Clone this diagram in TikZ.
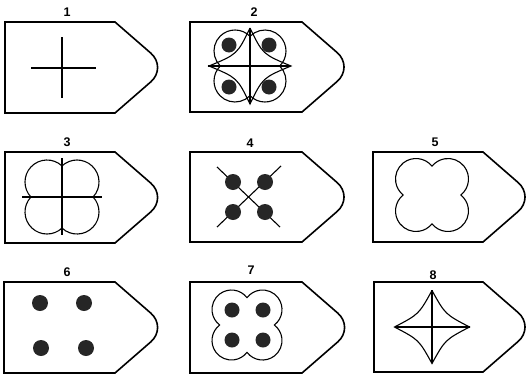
\documentclass[tikz,border=0pt]{standalone}
\usepackage{fontspec}
\setmainfont{Liberation Sans}
\tikzset{
  boxline/.style={line width=1.6pt, line cap=round, line join=miter},
  figline/.style={line width=1.1pt},
  dotfill/.style={fill=black!85},
  lab/.style={font=\fontsize{12.5}{14}\selectfont\bfseries, inner sep=0pt},
  pics/tag/.style 2 args={code={
    \draw[boxline] (#1,0) -- (0,0) -- (0,#2) -- (#1,#2);
    \draw[boxline, rounded corners=22pt] (#1,0) -- ({#1+0.575*#2},{#2/2}) -- (#1,#2);
  }},
  pics/clover/.style 2 args={code={
    \pgfmathsetmacro\cls{sqrt((#2)^2-(#1)^2)}
    \pgfmathsetmacro\cla{atan(\cls/(#1))}
    \draw[figline] (0,{#1+\cls})
      arc[start angle={180-\cla}, end angle={\cla-90}, radius=#2]
      arc[start angle={90-\cla}, end angle={\cla-180}, radius=#2]
      arc[start angle={-\cla}, end angle={\cla-270}, radius=#2]
      arc[start angle={-90-\cla}, end angle={\cla-360}, radius=#2] -- cycle;
  }},
  pics/astroid/.style n args={3}{code={
    \draw[figline, line join=miter] (0,{-#2})
      .. controls ({-#3*#1/2},{-#3*#2/2}) .. ({-#1},0)
      .. controls ({-#3*#1/2},{#3*#2/2}) .. (0,{#2})
      .. controls ({#3*#1/2},{#3*#2/2}) .. ({#1},0)
      .. controls ({#3*#1/2},{-#3*#2/2}) .. (0,{-#2});
  }}
}
\begin{document}
\begin{tikzpicture}[x=1pt, y=-1pt]
\useasboundingbox (0,0) rectangle (529,380);

% labels
\node[lab] (l1) at (67,12) {1};
\node[lab] (l2) at (254,12.5) {2};
\node[lab] (l3) at (67,142) {3};
\node[lab] (l4) at (250,143) {4};
\node[lab] (l5) at (435,142.5) {5};
\node[lab] (l6) at (67,272) {6};
\node[lab] (l7) at (251,270) {7};
\node[lab] (l8) at (433,275) {8};

% outlines
\pic at (5,22) {tag={110}{91}};
\pic at (190,22) {tag={112}{90}};
\pic at (5,152) {tag={110}{91}};
\pic at (190,152) {tag={112}{90}};
\pic at (373,152) {tag={110}{90}};
\pic at (4,282) {tag={111}{91}};
\pic at (190,282) {tag={112}{91}};
\pic at (374,282) {tag={109}{90}};

% panel 1
\draw[figline] (31,68) -- (96,68);
\draw[figline] (62,37) -- (62,98);

% panel 2
\pic at (250,66) {clover={15}{21}};
\pic at (250,66) {astroid={41}{38}{0.62}};
\draw[figline] (208,66) -- (290,66);
\draw[figline] (250,28) -- (250,104);
\foreach \p in {(229,45),(269,45),(229,87),(269,87)}
  \fill[dotfill] \p circle[radius=7.5];

% panel 3
\pic at (62,197) {clover={15}{22}};
\draw[figline] (22,197) -- (102,197);
\draw[figline] (62,158) -- (62,235);

% panel 4
\draw[figline] (217,167) -- (280,227);
\draw[figline] (281,166) -- (217,227);
\foreach \p in {(233,182),(265,182),(233,212),(265,212)}
  \fill[dotfill] \p circle[radius=8];

% panel 5
\pic at (432,195) {clover={16}{20.5}};

% panel 6
\foreach \p in {(40,303),(84,303),(41,348),(86,348)}
  \fill[dotfill] \p circle[radius=8];

% panel 7
\pic at (247,325) {clover={15.5}{19.5}};
\foreach \p in {(232,310),(263,310),(232,340),(263,340)}
  \fill[dotfill] \p circle[radius=7.5];

% panel 8
\pic at (432,327) {astroid={37.5}{36.5}{0.7}};
\draw[figline] (395,327) -- (470,327);
\draw[figline] (432,290) -- (432,363);
\end{tikzpicture}
\end{document}
